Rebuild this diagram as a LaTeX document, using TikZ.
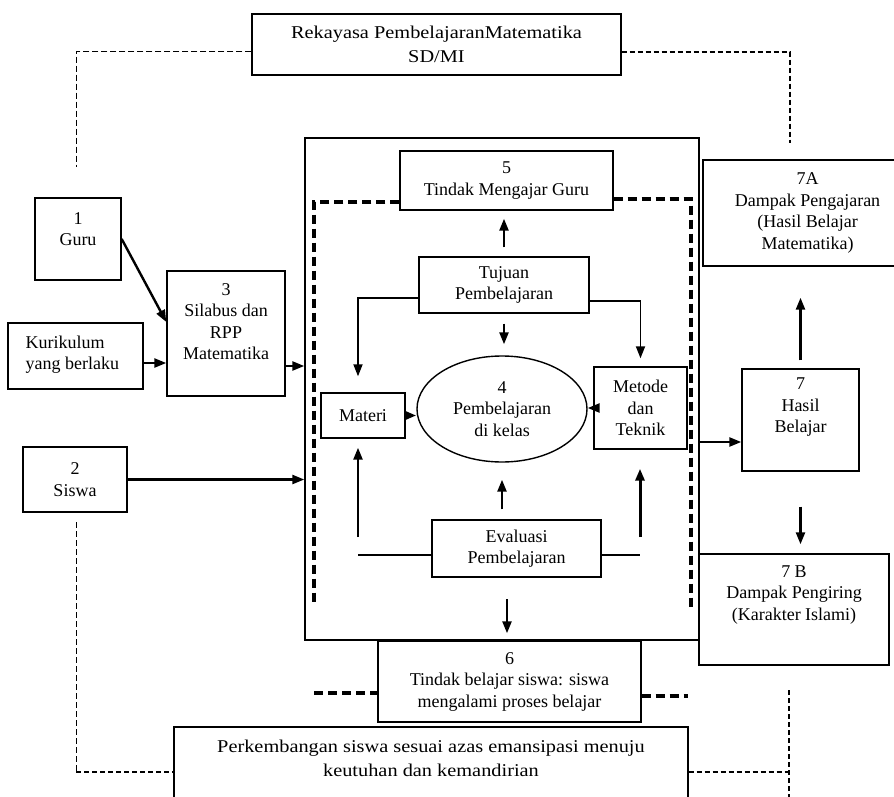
\documentclass[tikz,border=0pt]{standalone}
\usepackage{fontspec}
\setmainfont{Liberation Serif}
\newfontfamily\lebar[FakeStretch=1.13]{Liberation Serif}
\usetikzlibrary{arrows.meta,shapes.geometric}
\tikzset{
  kotak/.style={draw, line width=1.4pt, inner sep=0pt},
  teks/.style={align=center, font=\fontsize{18}{21.5}\selectfont},
  tekslebar/.style={align=center, font=\lebar\fontsize{18}{23.5}\selectfont},
  panah/.style={line width=2.4pt, -{Triangle[length=12pt,width=9pt]}},
  garis/.style={line width=1.5pt},
  putus/.style={line width=3.4pt, dash pattern=on 9pt off 5pt},
  putustipis/.style={line width=1pt, dash pattern=on 6pt off 3pt},
  putusrapat/.style={line width=2.6pt, dash pattern=on 5pt off 3pt}
}
\begin{document}
\begin{tikzpicture}[x=1pt,y=-1pt]
\clip (0,0) rectangle (894,797);
% kotak-kotak
\node[kotak, tekslebar, minimum width=369, minimum height=61] (rekayasa) at (436.5,44.5) {Rekayasa PembelajaranMatematika\\SD/MI};
\node[kotak, minimum width=394, minimum height=502] (proses) at (502,389) {};
\node[kotak, minimum width=86, minimum height=82] (guru) at (78,239) {};
\node[teks] (guru-teks) at (78,229) {1\\Guru};
\node[kotak, minimum width=135, minimum height=66] (kurikulum) at (75.5,356) {};
\node[teks, align=left, anchor=west] (kurikulum-teks) at (22,354.5) {Kurikulum\\yang berlaku};
\node[kotak, minimum width=118, minimum height=125] (silabus) at (226,333.5) {};
\node[teks] (silabus-teks) at (226,321.5) {3\\Silabus dan\\RPP\\Matematika};
\node[kotak, teks, minimum width=104, minimum height=65] (siswa) at (75,479.5) {2\\Siswa};
\node[kotak, teks, minimum width=213, minimum height=59] (tindak5) at (506.5,180.5) {5\\Tindak Mengajar Guru};
\node[kotak, teks, minimum width=170, minimum height=56] (tujuan) at (504,285) {Tujuan\\Pembelajaran};
\node[kotak, teks, ellipse, minimum width=170, minimum height=106] (utama) at (502,409) {4\\Pembelajaran\\di kelas};
\node[kotak, teks, minimum width=84, minimum height=45] (materi) at (363,415.5) {Materi};
\node[kotak, teks, minimum width=93, minimum height=82] (metode) at (640.5,408) {Metode\\dan\\Teknik};
\node[kotak, teks, minimum width=169, minimum height=57] (evaluasi) at (516.5,548.5) {Evaluasi\\Pembelajaran};
\node[kotak, teks, minimum width=209, minimum height=106] (a7) at (807.5,213) {7A\\Dampak Pengajaran\\(Hasil Belajar\\Matematika)};
\node[kotak, minimum width=117, minimum height=102] (hasil) at (800.5,420) {};
\node[teks] (hasil-teks) at (800.5,407.5) {7\\Hasil\\Belajar};
\node[kotak, minimum width=190, minimum height=111] (b7) at (794,609.5) {};
\node[teks] (b7-teks) at (794,595) {7 B\\Dampak Pengiring\\(Karakter Islami)};
\node[kotak, teks, minimum width=263, minimum height=81] (enam) at (509.5,681.5) {6\\Tindak belajar siswa: siswa\\mengalami proses belajar};
\node[kotak, minimum width=514, minimum height=103] (bawah) at (431,778.5) {};
\node[tekslebar] (bawah-teks) at (431,758.5) {Perkembangan siswa sesuai azas emansipasi menuju\\keutuhan dan kemandirian};
% panah
\draw[panah] (guru.east) -- ([yshift=11.5]silabus.west);
\draw[panah] ([yshift=-7]kurikulum.east) -- ([yshift=-7]kurikulum.east -| silabus.west);
\draw[panah] ([yshift=-32.5]silabus.east) -- ([yshift=-32.5]silabus.east -| proses.west);
\draw[panah] (siswa.east) -- (siswa.east -| proses.west);
\draw[panah, shorten <=9pt, shorten >=8pt] (tujuan.north) -- (tujuan.north |- tindak5.south);
\draw[panah, shorten <=10pt, shorten >=11pt] (tujuan.south) -- (tujuan.south |- utama.north);
\draw[panah, line width=1.8pt, shorten >=16pt] ([yshift=-13]tujuan.west) -| ([xshift=-5]materi.north);
\draw[panah, line width=1.8pt, shorten >=8pt] ([yshift=-16]tujuan.east) -| (metode.north);
\draw[panah, line width=3.2pt] (materi.east) -- (materi.east -| utama.west);
\draw[panah] (metode.west) -- (metode.west -| utama.east);
\draw[panah, shorten <=10pt, shorten >=17pt] (utama.south |- evaluasi.north) -- (utama.south);
\coordinate (kiri) at (358,555);
\coordinate (kanan) at (640,555);
\draw[garis] ([yshift=-6.5]evaluasi.west) -- (kiri);
\draw[garis] ([yshift=-6.5]evaluasi.east) -- (kanan);
\draw[panah, shorten >=9pt] ([yshift=18]kiri) -- (kiri |- materi.south);
\draw[panah, line width=3pt, shorten >=19pt] ([yshift=18]kanan) -- (kanan |- metode.south);
\draw[panah] ([yshift=-22]hasil.west -| proses.east) -- ([yshift=-22]hasil.west);
\draw[panah, shorten <=8pt, shorten >=31pt] (hasil.north) -- (hasil.north |- a7.south);
\draw[panah, shorten <=35pt, shorten >=9pt] (hasil.south) -- (hasil.south |- b7.north);
\coordinate (turun) at (507,599);
\draw[panah, shorten >=7pt] (turun) -- (turun |- enam.north);
% garis putus-putus
\coordinate (kiriatas) at (76,167);
\coordinate (kananatas) at (790,143);
\draw[putustipis] ([yshift=-7.5]rekayasa.west) -| (kiriatas);
\draw[putusrapat] ([yshift=-7.5]rekayasa.east) -| (kananatas);
\coordinate (dalamkiri) at (314,603);
\coordinate (dalamkanan) at (691,607);
\draw[putus] ([yshift=-21.5]tindak5.west) -| (dalamkiri);
\draw[putus] ([yshift=-18.5]tindak5.east) -| (dalamkanan);
\coordinate (enamkiri) at (314,693);
\coordinate (enamkanan) at (688,696);
\draw[putus] (enamkiri) -- (enamkiri -| enam.west);
\draw[putus] (enamkanan -| enam.east) -- (enamkanan);
\coordinate (kiribawah) at (76,522);
\coordinate (sudutkiri) at (76,772);
\draw[putustipis] (kiribawah) -- (sudutkiri);
\draw[putusrapat] (sudutkiri) -- (sudutkiri -| bawah.west);
\coordinate (sudutkanan) at (789,772);
\coordinate (kananbawah) at (789,690);
\draw[putusrapat] (sudutkanan -| bawah.east) -- (sudutkanan);
\draw[putusrapat] (kananbawah) -- (kananbawah |- 0,800);
\end{tikzpicture}
\end{document}
